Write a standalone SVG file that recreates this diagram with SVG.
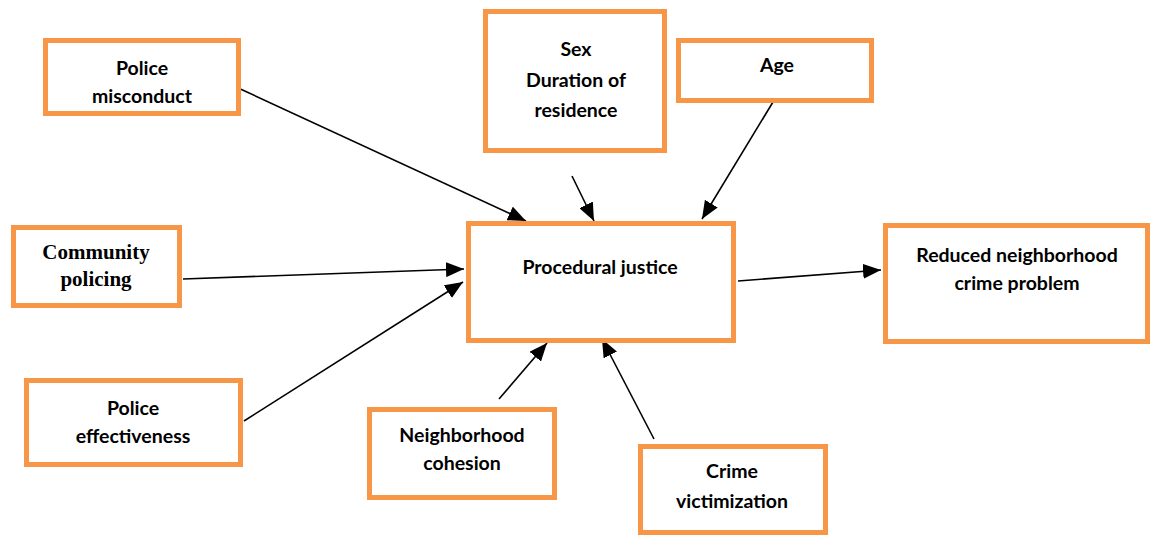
<svg xmlns="http://www.w3.org/2000/svg" width="1150" height="535" viewBox="0 0 1150 535">
  <style>
    .box { fill: #ffffff; stroke: #F79646; stroke-width: 5; }
    .lbl { font-family: Lato, "Open Sans", sans-serif; font-weight: bold; font-size: 19.5px; fill: #000000; text-anchor: middle; }
    .serif { font-family: "Liberation Serif", "Times New Roman", serif; font-weight: bold; font-size: 21px; fill: #000000; text-anchor: middle; }
    .link { stroke: #000000; stroke-width: 1.6; fill: none; marker-end: url(#arrow); }
  </style>
  <defs>
    <marker id="arrow" markerUnits="userSpaceOnUse" markerWidth="18" markerHeight="15" refX="18" refY="7.5" orient="auto">
      <path d="M0,0 L18,7.5 L0,15 Z" fill="#000000"/>
    </marker>
  </defs>
  <rect width="1150" height="535" fill="#ffffff"/>

  <!-- connectors -->
  <g id="connectors">
    <line class="link" x1="236" y1="87" x2="526" y2="221"/>
    <line class="link" x1="572" y1="176" x2="594" y2="221"/>
    <line class="link" x1="773" y1="102" x2="702" y2="219"/>
    <line class="link" x1="183" y1="279" x2="464" y2="269"/>
    <line class="link" x1="244" y1="421" x2="463" y2="282"/>
    <line class="link" x1="499" y1="399" x2="547" y2="343"/>
    <line class="link" x1="654" y1="439" x2="602" y2="339"/>
    <line class="link" x1="738" y1="281" x2="881" y2="270"/>
  </g>

  <g id="police-misconduct">
    <rect class="box" x="45.5" y="40.5" width="193" height="73"/>
    <text class="lbl" x="142" y="75">Police</text>
    <text class="lbl" x="142" y="103">misconduct</text>
  </g>

  <g id="sex-duration">
    <rect class="box" x="485.5" y="11.5" width="179" height="139"/>
    <text class="lbl" x="576" y="56">Sex</text>
    <text class="lbl" x="576" y="87">Duration of</text>
    <text class="lbl" x="576" y="117">residence</text>
  </g>

  <g id="age">
    <rect class="box" x="678.5" y="40.5" width="193" height="60"/>
    <text class="lbl" x="777" y="72">Age</text>
  </g>

  <g id="community-policing">
    <rect class="box" x="13.5" y="227.5" width="166" height="78"/>
    <text class="serif" x="96" y="259">Community</text>
    <text class="serif" x="96" y="286">policing</text>
  </g>

  <g id="procedural-justice">
    <rect class="box" x="468.5" y="223.5" width="265" height="117"/>
    <text class="lbl" x="600" y="274">Procedural justice</text>
  </g>

  <g id="reduced-crime">
    <rect class="box" x="885.5" y="225.5" width="262" height="116"/>
    <text class="lbl" x="1017" y="262">Reduced neighborhood</text>
    <text class="lbl" x="1017" y="290">crime problem</text>
  </g>

  <g id="police-effectiveness">
    <rect class="box" x="26.5" y="380.5" width="214" height="84"/>
    <text class="lbl" x="133" y="415">Police</text>
    <text class="lbl" x="133" y="443">effectiveness</text>
  </g>

  <g id="neighborhood-cohesion">
    <rect class="box" x="369.5" y="409.5" width="185" height="88"/>
    <text class="lbl" x="462" y="442">Neighborhood</text>
    <text class="lbl" x="462" y="470">cohesion</text>
  </g>

  <g id="crime-victimization">
    <rect class="box" x="640.5" y="446.5" width="185" height="86"/>
    <text class="lbl" x="732" y="478">Crime</text>
    <text class="lbl" x="732" y="508">victimization</text>
  </g>
</svg>
